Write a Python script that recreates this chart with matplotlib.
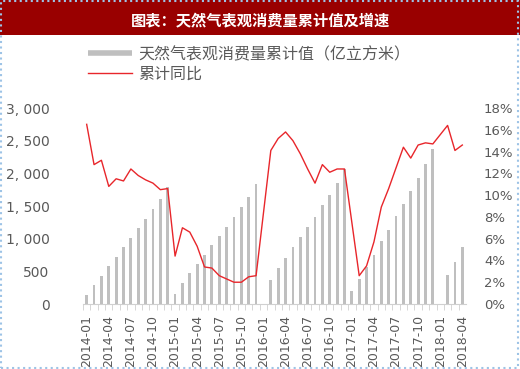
import numpy as np
import matplotlib
matplotlib.use("Agg")
import matplotlib.pyplot as plt
from matplotlib.patches import Rectangle
from matplotlib.lines import Line2D
from matplotlib.ticker import FuncFormatter, FixedLocator

CJK = ["Noto Sans CJK SC", "DejaVu Sans"]

# 月份（2014-01 ~ 2018-04）
months = [f"{y}-{m:02d}" for y in range(2014, 2019) for m in range(1, 13)][:52]

# 天然气表观消费量累计值（亿立方米），缺失月份为 nan
cons_2014 = [137, 284, 431, 578, 720, 872, 1014, 1156, 1303, 1455, 1603, 1790]
cons_2015 = [153, 317, 470, 608, 750, 900, 1040, 1185, 1333, 1478, 1640, 1830]
cons_2016 = [np.nan, 363, 547, 709, 873, 1031, 1184, 1337, 1511, 1674, 1850, 2060]
cons_2017 = [199, 378, 562, 755, 960, 1133, 1343, 1531, 1725, 1924, 2148, 2378]
cons_2018 = [np.nan, 439, 648, 877]

# 累计同比（%）
yoy_2014 = [16.5, 12.8, 13.2, 10.8, 11.5, 11.3, 12.4, 11.8, 11.4, 11.1, 10.5, 10.6]
yoy_2015 = [4.4, 7.0, 6.6, 5.3, 3.4, 3.3, 2.6, 2.3, 2.0, 2.0, 2.5, 2.6]
yoy_2016 = [np.nan, 14.1, 15.2, 15.8, 15.0, 13.8, 12.4, 11.1, 12.8, 12.1, 12.4, 12.4]
yoy_2017 = [np.nan, 2.6, 3.5, 5.7, 8.9, 10.6, 12.5, 14.4, 13.4, 14.6, 14.8, 14.7]
yoy_2018 = [np.nan, 16.4, 14.1, 14.6]

consumption = np.array(cons_2014 + cons_2015 + cons_2016 + cons_2017 + cons_2018, dtype=float)
yoy = np.array(yoy_2014 + yoy_2015 + yoy_2016 + yoy_2017 + yoy_2018, dtype=float)

bar_color = "#bfbfbf"
line_color = "#e8262b"
text_color = "#595959"

W, H = 520, 369
fig = plt.figure(figsize=(W / 100, H / 100), dpi=100)
ax = fig.add_axes([83 / W, 65 / H, 383 / W, 196 / H])

x = np.arange(len(months))
ax.bar(x, consumption, width=0.38, color=bar_color)
ax.set_xlim(-0.5, len(months) - 0.5)
ax.set_ylim(0, 3000)
ax.set_yticks(np.arange(0, 3001, 500))
ax.yaxis.set_major_formatter(FuncFormatter(lambda v, p: f"{v:,.0f}".replace(",", ", ")))

ax2 = ax.twinx()
ok = ~np.isnan(yoy)
ax2.plot(x[ok], yoy[ok], color=line_color, lw=1.0)
ax2.set_ylim(0, 18)
ax2.set_yticks(np.arange(0, 19, 2))
ax2.yaxis.set_major_formatter(FuncFormatter(lambda v, p: f"{v:.0f}%"))

for a in (ax, ax2):
    for s in a.spines.values():
        s.set_visible(False)
ax.spines["bottom"].set_visible(True)
ax.spines["bottom"].set_color("#d0d0d0")

ax.set_xticks(x[::3])
ax.set_xticklabels(months[::3], rotation=90)
ax.xaxis.set_minor_locator(FixedLocator(x - 0.5))
ax.tick_params(axis="x", which="major", length=0, pad=8, labelsize=9, labelcolor=text_color)
ax.tick_params(axis="x", which="minor", length=4, color="#d0d0d0")
ax.tick_params(axis="y", length=0, pad=24, labelsize=10, labelcolor=text_color)
ax2.tick_params(axis="y", length=0, pad=13, labelsize=9.5, labelcolor=text_color)

# 图例
handles = [Line2D([0], [0], color=bar_color, lw=4, solid_capstyle="butt"),
           Line2D([0], [0], color=line_color, lw=1.0)]
labels = ["天然气表观消费量累计值（亿立方米）", "累计同比"]
fig.legend(handles, labels, loc="upper left", bbox_to_anchor=(88 / W, 1 - 46 / H),
           frameon=False, prop={"family": CJK, "size": 11.5}, labelcolor=text_color,
           handlelength=2.75, handletextpad=0.4, labelspacing=0.15, borderaxespad=0,
           borderpad=0)

# 标题栏
fig.patches.append(Rectangle((0, 1 - 35 / H), 1, 35 / H, transform=fig.transFigure,
                             facecolor="#990000", edgecolor="none", zorder=0))
fig.text(0.5, 1 - 20.5 / H, "图表：天然气表观消费量累计值及增速", color="white",
         fontsize=11, fontweight="bold", family=CJK, ha="center", va="center")

# 外框
fig.patches.append(Rectangle((0.002, 0.003), 0.995, 0.994, transform=fig.transFigure,
                             fill=False, edgecolor="#9dc3e6", ls=":", lw=1.5))

fig.savefig("out.png", dpi=100)
